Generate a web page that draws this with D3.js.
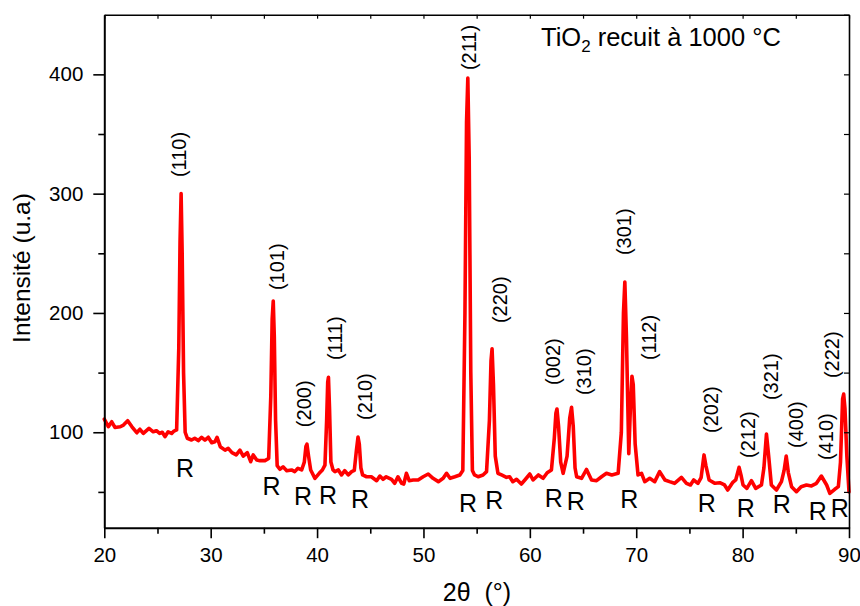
<!DOCTYPE html>
<html>
<head>
<meta charset="utf-8">
<script src="https://cdn.jsdelivr.net/npm/d3@7"></script>
<style>
  html, body { margin: 0; padding: 0; background: #fff; }
  svg { display: block; font-family: "Liberation Sans", Arial, sans-serif; }
</style>
</head>
<body>
<svg id="chart" width="860" height="606"></svg>
<script>
// ---- data ----
const twoTheta = [
  20.0, 20.38, 20.7, 21.0, 21.5, 21.8, 22.2, 22.6, 23.05, 23.35, 23.67, 24.2, 24.6, 24.9, 25.2, 25.45, 25.7, 26.0, 26.33, 26.55, 26.8,
  27.0, 27.12, 27.22, 27.32, 27.45, 27.6,
  27.8, 28.2, 28.5, 28.83, 29.15, 29.46, 29.77, 30.1, 30.4, 30.6, 30.9, 31.35, 31.65, 32.0, 32.4, 32.75, 33.06, 33.44, 33.76, 34.0, 34.33, 34.63, 35.1, 35.45,
  35.65, 35.78, 35.88, 35.98, 36.1, 36.25,
  36.5, 36.8, 37.15, 37.6, 37.9, 38.2, 38.55,
  38.8, 38.95, 39.05, 39.2, 39.4,
  39.8, 40.2, 40.5, 40.74,
  40.9, 41.0, 41.07, 41.17, 41.3,
  41.5, 41.68, 42.0, 42.3, 42.6, 42.93, 43.25, 43.5,
  43.7, 43.85, 43.97, 44.12,
  44.28, 44.65, 45.1, 45.6, 45.9, 46.2, 46.5, 47.0, 47.3, 47.6, 47.95, 48.15, 48.4, 48.66, 49.03, 49.5, 49.97, 50.45, 50.9, 51.4, 51.85, 52.17, 52.5, 52.95, 53.42, 53.7,
  53.9, 54.05, 54.17, 54.3, 54.45, 54.6,
  54.8, 55.14, 55.6, 55.93,
  56.2, 56.35, 56.45, 56.58, 56.75,
  57.0, 57.34, 57.8, 58.1, 58.4, 58.75, 59.2, 59.53, 60.0, 60.3, 60.8, 61.25, 61.63, 62.03,
  62.3, 62.45, 62.55, 62.7, 62.9, 63.13,
  63.5, 63.75, 63.92, 64.08, 64.25,
  64.4, 64.86, 65.33, 65.8, 66.27, 66.74, 67.2, 67.7, 68.3,
  68.6, 68.8, 68.93, 69.08, 69.3,
  69.45, 69.6, 69.72, 69.9,
  70.17, 70.5, 70.8, 71.27, 71.74, 72.2, 72.7, 73.13, 73.6, 74.25, 74.72, 75.1, 75.4, 75.8,
  76.1, 76.37, 76.55, 76.85,
  77.4, 77.85, 78.3, 78.6, 79.05, 79.35, 79.67, 79.85, 80.04, 80.4, 80.83, 81.23, 81.77,
  82.0, 82.24, 82.45, 82.7,
  83.18, 83.65, 83.9, 84.1, 84.3, 84.6, 85.06, 85.5, 86.0, 86.47, 86.94, 87.4, 87.9, 88.2, 88.66, 89.0,
  89.2, 89.4, 89.5, 89.62, 89.8, 90.0
];
const intensity = [
  111, 104.7, 108.8, 104, 104.6, 106, 109.7, 104.6, 99.6, 102.5, 99, 103.3, 100.4, 101.3, 99, 100, 96.3, 100.4, 99, 101, 102,
  170, 260, 300, 250, 150, 100,
  95, 93.5, 95, 93, 95.8, 93.5, 95.8, 91.2, 92, 95.8, 87.9, 85, 86.5, 82.9, 81, 85, 80, 82.9, 75.3, 81, 76.7, 76.2, 76.2, 78,
  130, 195, 210, 180, 110, 72,
  69, 71, 67.8, 68.4, 67, 69.8, 68.4,
  75, 88, 90, 80, 68.4,
  61.4, 65.6, 68.4, 72.5,
  110, 142, 146, 120, 75,
  68.4, 67, 68.4, 64.2, 67.8, 64.2, 67, 68,
  85, 96, 90, 70,
  64.2, 62.7, 62.7, 59.4, 63.3, 60.6, 62.7, 60.6, 57.2, 62.7, 57.2, 56.6, 65.6, 59.4, 60, 60, 62.7, 65, 61.4, 58.6, 61.4, 65.6, 61.4, 62.7, 64.2, 68,
  200, 360, 397, 330, 150, 68,
  64.2, 62.7, 64.2, 67,
  110, 160, 170, 140, 80,
  65.6, 64.2, 62.2, 62.7, 58.6, 60.6, 56.6, 60, 65, 60, 64.2, 61.4, 66.1, 68.4,
  95, 116, 119.5, 105, 75, 65.6,
  80, 112, 121, 105, 70,
  62.7, 61.4, 68.8, 60, 59.4, 62.7, 65.6, 64.2, 65.6,
  100, 200, 226, 180, 82,
  120, 147, 140, 90,
  64.2, 65.6, 58.6, 61.4, 58.6, 67, 60, 58.6, 57.2, 62.2, 57.2, 55.8, 60, 57.2,
  62, 81, 72, 60,
  57.2, 57.7, 55.8, 51.6, 57.7, 60, 70.6, 64, 55.8, 53, 59.4, 53, 55.8,
  70, 98.5, 80, 55.8,
  51.6, 58.6, 68, 80, 66, 54.4, 50.2, 54.4, 55.8, 55, 57.2, 63.3, 55.8, 48.8, 52.2, 54.4,
  75, 128, 132, 120, 80, 50
];

// Miller index labels (position in data units: 2θ of label centre, intensity at label start)
const hklText  = ["(110)","(101)","(200)","(111)","(210)","(211)","(220)","(002)","(310)","(301)","(112)","(202)","(212)","(321)","(400)","(410)","(222)"];
const hklTheta = [26.97, 36.23, 38.76, 41.68, 44.5, 54.24, 57.15, 62.13, 65.07, 68.83, 71.18, 77.0, 80.48, 82.64, 84.99, 87.81, 88.42];
const hklInt   = [313.9, 219.2, 104.3, 160.5, 110.3, 403.6, 191.5, 139.6, 131.2, 248.5, 160.5, 99.4, 78.4, 127, 86.8, 76.8, 145.4];

// Rutile "R" markers
const rTheta = [27.58, 35.73, 38.67, 41.02, 44.03, 54.18, 56.66, 62.25, 64.32, 69.35, 76.63, 80.29, 83.67, 87.06, 89.13];
const rInt   = [62.5, 47.4, 39, 39.8, 36.5, 33.4, 35.7, 37.6, 34.8, 36.3, 32.9, 28.7, 32.1, 26.5, 29.2];

const xMajorTicks = [20, 30, 40, 50, 60, 70, 80, 90];
const xMinorTicks = [25, 35, 45, 55, 65, 75, 85];
const yMajorTicks = [100, 200, 300, 400];
const yMinorTicks = [50, 150, 250, 350, 450];
const xDomain = [20, 90];
const yDomain = [20, 450];

const titleMain = "TiO";
const titleSub = "2";
const titleRest = " recuit à 1000 °C";
const xLabel = "2θ\u00a0\u00a0(°)";
const yLabel = "Intensité (u.a)";

// ---- drawing ----
const svg = d3.select("#chart");
const L = 104.3, R = 849, T = 14.7, B = 527.7;
const x = d3.scaleLinear().domain(xDomain).range([L, R]);
const y = d3.scaleLinear().domain(yDomain).range([B, T]);

// data line
const pts = twoTheta.map((t, i) => [t, intensity[i]]);
svg.append("path")
  .datum(pts)
  .attr("fill", "none")
  .attr("stroke", "#ff0000")
  .attr("stroke-width", 3.6)
  .attr("stroke-linejoin", "round")
  .attr("stroke-linecap", "round")
  .attr("d", d3.line().x(d => x(d[0])).y(d => y(d[1])));

// axes
function styleAxis(g, width) {
  g.select(".domain").attr("stroke", "#000").attr("stroke-width", width);
  g.selectAll(".tick line").attr("stroke", "#000").attr("stroke-width", 1.6);
  g.selectAll(".tick text").attr("fill", "#000").attr("font-size", 20.5)
    .attr("font-family", "Liberation Sans, Arial, sans-serif");
}

// bottom: major + minor
const gxMin = svg.append("g").attr("transform", `translate(0,${B})`)
  .call(d3.axisBottom(x).tickValues(xMinorTicks).tickSize(6).tickFormat(""));
gxMin.select(".domain").remove();
gxMin.selectAll(".tick line").attr("stroke", "#000").attr("stroke-width", 1.6);
const gx = svg.append("g").attr("transform", `translate(0,${B})`)
  .call(d3.axisBottom(x).tickValues(xMajorTicks).tickSize(10.5).tickPadding(9.5).tickSizeOuter(0).tickFormat(d3.format("d")));
styleAxis(gx, 2);

// left: major + minor
const gyMin = svg.append("g").attr("transform", `translate(${L},0)`)
  .call(d3.axisLeft(y).tickValues(yMinorTicks.filter(v => v < 450)).tickSize(6).tickFormat(""));
gyMin.select(".domain").remove();
gyMin.selectAll(".tick line").attr("stroke", "#000").attr("stroke-width", 1.6);
const gy = svg.append("g").attr("transform", `translate(${L},0)`)
  .call(d3.axisLeft(y).tickValues(yMajorTicks).tickSize(11).tickPadding(10).tickSizeOuter(0).tickFormat(d3.format("d")));
styleAxis(gy, 2);

// top: inward ticks every 5
const gt = svg.append("g").attr("transform", `translate(0,${T})`)
  .call(d3.axisTop(x).tickValues(xMajorTicks.concat(xMinorTicks)).tickSize(-4).tickSizeOuter(0).tickFormat(""));
gt.select(".domain").attr("stroke", "#000").attr("stroke-width", 1.6);
gt.selectAll(".tick line").attr("stroke", "#000").attr("stroke-width", 1.2);

// right: inward ticks every 50
const gr = svg.append("g").attr("transform", `translate(${R},0)`)
  .call(d3.axisRight(y).tickValues(yMajorTicks.concat(yMinorTicks)).tickSize(-5).tickSizeOuter(0).tickFormat(""));
gr.select(".domain").attr("stroke", "#000").attr("stroke-width", 1.6);
gr.selectAll(".tick line").attr("stroke", "#000").attr("stroke-width", 1.2);

// axis titles
svg.append("text")
  .attr("x", 477).attr("y", 601)
  .attr("text-anchor", "middle")
  .attr("font-size", 25).attr("fill", "#000")
  .text(xLabel);
svg.append("text")
  .attr("transform", `translate(30,268) rotate(-90)`)
  .attr("text-anchor", "middle")
  .attr("font-size", 24.5).attr("fill", "#000")
  .text(yLabel);

// hkl labels (rotated)
svg.append("g").selectAll("text")
  .data(hklText)
  .join("text")
  .attr("transform", (d, i) => `translate(${x(hklTheta[i])},${y(hklInt[i])}) rotate(-90)`)
  .attr("dy", "0.36em")
  .attr("text-anchor", "start")
  .attr("font-size", 20).attr("fill", "#000")
  .text(d => d);

// R labels
svg.append("g").selectAll("text")
  .data(rTheta)
  .join("text")
  .attr("x", d => x(d))
  .attr("y", (d, i) => y(rInt[i]))
  .attr("text-anchor", "middle")
  .attr("font-size", 25).attr("fill", "#000")
  .text("R");

// title
const tt = svg.append("text")
  .attr("x", 541).attr("y", 46)
  .attr("font-size", 25.5).attr("fill", "#000");
tt.append("tspan").text(titleMain);
tt.append("tspan").attr("font-size", 17).attr("dy", 6).text(titleSub);
tt.append("tspan").attr("dy", -6).text(titleRest);
</script>
</body>
</html>
